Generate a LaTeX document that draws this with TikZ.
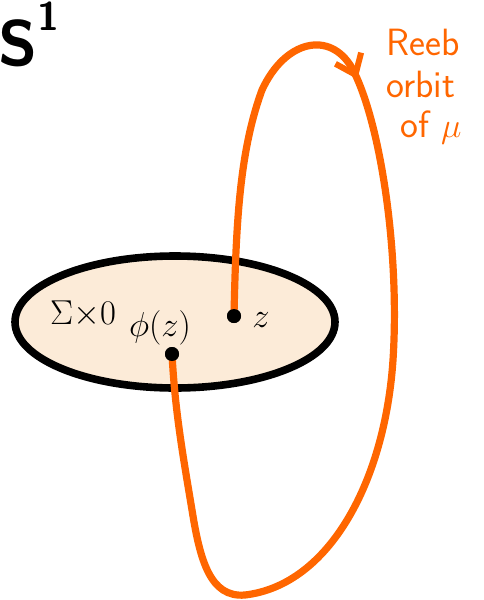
\documentclass[tikz,border=0pt]{standalone}
\usepackage{tikz}
\usetikzlibrary{arrows.meta,decorations.markings}
\definecolor{reeborange}{RGB}{255,102,0}
\definecolor{peach}{RGB}{252,235,216}
\tikzset{
  orbit/.style={reeborange,line width=3.6pt,line cap=round,line join=round},
  dot/.style={circle,fill=black,inner sep=0pt,minimum size=7pt},
  orbittext/.style={reeborange,font=\sffamily\fontsize{19}{20}\selectfont,inner sep=0pt}
}
\begin{document}
\begin{tikzpicture}[x=0.5pt,y=-0.5pt]
\useasboundingbox (0,0) rectangle (483,600);
\draw[fill=peach,line width=3.8pt] (175,322) ellipse (160 and 66);
\node[dot] (z) at (234,316) {};
\node[dot] (phi) at (172,354) {};
\node[anchor=west,inner sep=0pt] (zlab) at (252,320) {\fontsize{18}{20}\selectfont$z$};
\node[inner sep=0pt] (philab) at (160,328) {\fontsize{17}{20}\selectfont$\phi(z)$};
\node[inner sep=0pt] (sigma) at (83,314) {\fontsize{18}{20}\selectfont$\Sigma{\times}0$};
\node[anchor=west,inner sep=0pt] (sone) at (-2,34) {\fontsize{32}{36}\selectfont\sffamily\bfseries S\raisebox{0.55em}{\fontsize{20}{22}\selectfont 1}};
\node[orbittext,anchor=west] (reeb) at (386,42) {Reeb};
\node[orbittext,anchor=west] (orb) at (386,84) {orbit};
\node[orbittext,anchor=west] (ofmu) at (400,128) {of $\mu$};
\draw[orbit,postaction={decorate},decoration={markings,
  mark=at position 0.297 with {\arrow[line width=3pt]{Straight Barb[length=9pt,width=14pt]}}}]
  (z.center) .. controls (236,220) and (240,150) .. (262,90)
  .. controls (285,40) and (330,30) .. (352,68)
  .. controls (380,120) and (400,250) .. (393,360)
  .. controls (385,480) and (330,585) .. (245,595)
  .. controls (210,598) and (200,560) .. (192,510)
  .. controls (182,450) and (175,410) .. (phi.center);
\node[dot] at (z) {};
\node[dot] at (phi) {};
\end{tikzpicture}
\end{document}
